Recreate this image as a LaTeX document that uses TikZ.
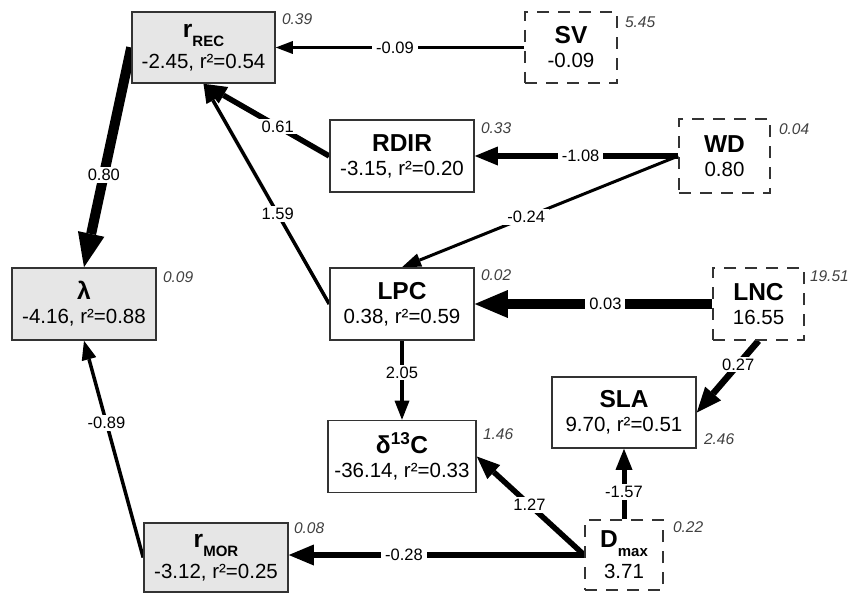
\documentclass[tikz,border=0pt]{standalone}
\usepackage{fontspec}
\setmainfont{Liberation Sans}
\usetikzlibrary{arrows.meta}
\pgfdeclarelayer{bg}
\pgfsetlayers{bg,main}
\definecolor{boxc}{HTML}{333333}
\definecolor{boxfill}{HTML}{E6E6E6}
\definecolor{errc}{HTML}{404040}
\newcommand\nmf{\fontsize{24.5}{24}\selectfont\bfseries}
\newcommand\sbf{\fontsize{15}{24}\selectfont\bfseries}
\tikzset{
  box/.style={draw=boxc, line width=1.6pt, inner sep=0pt, minimum width=144pt,
    minimum height=72pt, align=center, fill=white,
    font=\fontsize{20.5}{24}\selectfont},
  gbox/.style={box, fill=boxfill},
  dbox/.style={box, dash pattern=on 12pt off 9pt, minimum width=91pt},
  lab/.style={fill=white, inner xsep=4pt, inner ysep=2pt, font=\fontsize{16.5}{18}\selectfont},
  err/.style={font=\fontsize{15.5}{17}\selectfont\itshape, text=errc,
    inner sep=0pt, anchor=north west},
  ar/.style n args={3}{line width=#1, draw=black,
    -{Triangle[length=#2, width=#3, line width=0pt]}},
}
\begin{document}
\begin{tikzpicture}[x=1pt, y=-1pt]
\useasboundingbox (0,0) rectangle (851,594);

% nodes
\node[gbox, minimum width=143pt, minimum height=71pt] (rrec) at (203.5,47.5)
  {{\nmf r}\raisebox{-9pt}{\sbf REC}\\[7pt]-2.45, r²=0.54};
\node[dbox, minimum width=92pt, minimum height=71pt] (sv) at (571,47.5)
  {{\nmf SV}\\-0.09};
\node[box] (rdir) at (402,156) {{\nmf RDIR}\\-3.15, r²=0.20};
\node[dbox, minimum height=74pt] (wd) at (724.5,156) {{\nmf WD}\\0.80};
\node[gbox] (lam) at (84,304) {{\nmf λ}\\-4.16, r²=0.88};
\node[box] (lpc) at (402,304) {{\nmf LPC}\\0.38, r²=0.59};
\node[dbox] (lnc) at (758.5,304) {{\nmf LNC}\\16.55};
\node[box, minimum height=71pt] (sla) at (624,412.5) {{\nmf SLA}\\9.70, r²=0.51};
\node[box, minimum width=148pt] (d13c) at (402,456.5)
  {{\nmf δ\textsuperscript{13}C}\\-36.14, r²=0.33};
\node[gbox, minimum height=69pt] (rmor) at (216,557.5)
  {{\nmf r}\raisebox{-9pt}{\sbf MOR}\\[7pt]-3.12, r²=0.25};
\node[dbox, minimum width=78pt, minimum height=70pt] (dmax) at (624,555)
  {{\nmf D}\raisebox{-9pt}{\sbf max}\\[7pt]3.71};

% italic values
\node[err] (erec) at ([xshift=6pt,yshift=-2pt]rrec.north east) {0.39};
\node[err] (esv) at ([xshift=7pt,yshift=-5pt]sv.north east) {5.45};
\node[err] (erdir) at ([xshift=6pt,yshift=-3pt]rdir.north east) {0.33};
\node[err] (ewd) at ([xshift=8pt,yshift=-5pt]wd.north east) {0.04};
\node[err] (elam) at ([xshift=6pt,yshift=-4pt]lam.north east) {0.09};
\node[err] (elpc) at ([xshift=6pt,yshift=-2pt]lpc.north east) {0.02};
\node[err] (elnc) at ([xshift=5pt,yshift=-3pt]lnc.north east) {19.51};
\node[err, anchor=south west] (esla) at ([xshift=7pt,yshift=4pt]sla.south east) {2.46};
\node[err] (ed13c) at ([xshift=6pt,yshift=-9pt]d13c.north east) {1.46};
\node[err] (ermor) at ([xshift=5pt,yshift=0pt]rmor.north east) {0.08};
\node[err] (edmax) at ([xshift=9pt,yshift=-2pt]dmax.north east) {0.22};

% connectors
\begin{pgfonlayer}{bg}
\draw[ar={2.5pt}{17pt}{13pt}] (sv.west) -- node[lab,pos=.52]{-0.09} (rrec.east);
\draw[ar={5.5pt}{23pt}{19pt}] (wd.west) -- node[lab,pos=.48]{-1.08} (rdir.east);
\draw[ar={3pt}{19pt}{14pt}] (wd.west) -- node[lab,pos=.55]{-0.24} (lpc.north);
\draw[ar={5.5pt}{23pt}{19pt}] (rdir.west) -- node[lab,pos=.41]{0.61} (rrec.south);
\draw[ar={3.5pt}{19pt}{15pt}] (lpc.west) -- node[lab,pos=.41]{1.59} (rrec.south);
\draw[ar={10pt}{34pt}{27pt}] (rrec.west) -- node[lab,pos=.58]{0.80} (lam.north);
\draw[ar={3.5pt}{19pt}{15pt}] (rmor.west) -- node[lab,pos=.62]{-0.89} (lam.south);
\draw[ar={10pt}{33pt}{28pt}] (lnc.west) -- node[lab,pos=.45]{0.03} (lpc.east);
\draw[ar={6.5pt}{25pt}{21pt}] (lnc.south) -- node[lab,pos=.33]{0.27} (sla.east);
\draw[ar={4pt}{19pt}{15pt}] (lpc.south) -- node[lab,pos=.4]{2.05} (d13c.north);
\draw[ar={5pt}{21pt}{17pt}] (dmax.north) -- node[lab,pos=.39]{-1.57} (sla.south);
\draw[ar={5.5pt}{23pt}{19pt}] (dmax.west) -- node[lab,pos=.51]{1.27} (d13c.east);
\draw[ar={6.5pt}{25pt}{21pt}] (dmax.west) -- node[lab,pos=.61]{-0.28} (rmor.east |- dmax.west);
\end{pgfonlayer}
\end{tikzpicture}
\end{document}
